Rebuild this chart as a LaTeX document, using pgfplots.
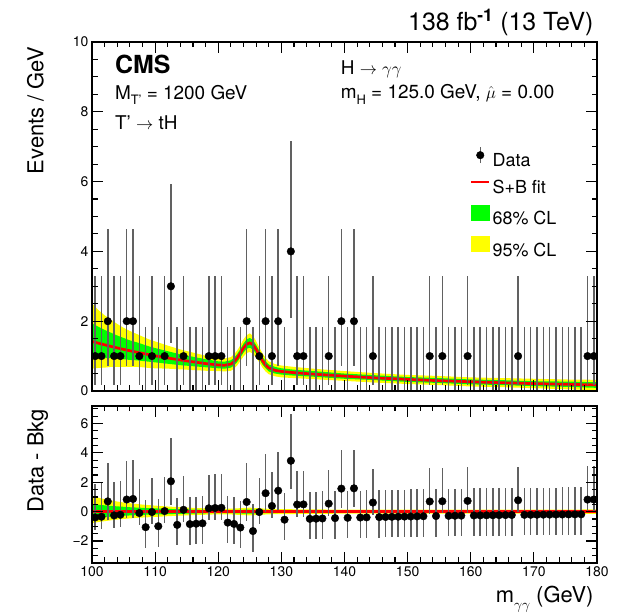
\documentclass[border=0pt]{standalone}
\usepackage{pgfplots}
\pgfplotsset{compat=1.18}
\usepackage{pgfplotstable}
\usepgfplotslibrary{fillbetween}
\usepackage{fontspec}
\setmainfont{TeX Gyre Heros}
\definecolor{rootgreen}{RGB}{0,255,0}
\definecolor{rootyellow}{RGB}{255,255,0}
\definecolor{rootred}{RGB}{255,0,0}

% background fit (events/GeV) and its 68%/95% bands
\pgfplotstableread{
m b yhi ylo ghi glo
100 1.420 2.50 0.64 1.94 0.95
101 1.371 2.32 0.66 1.84 0.95
102 1.323 2.17 0.67 1.75 0.94
103 1.277 2.04 0.69 1.67 0.94
104 1.234 1.92 0.69 1.59 0.92
105 1.192 1.81 0.69 1.52 0.91
106 1.153 1.72 0.69 1.45 0.89
107 1.115 1.64 0.69 1.40 0.88
108 1.078 1.56 0.68 1.34 0.86
109 1.043 1.48 0.66 1.28 0.84
110 1.009 1.42 0.65 1.23 0.82
112 0.946 1.30 0.64 1.14 0.78
114 0.888 1.19 0.62 1.05 0.74
116 0.835 1.10 0.60 0.98 0.71
118 0.785 1.01 0.58 0.91 0.68
120 0.745 0.94 0.57 0.85 0.65
121 0.738 0.93 0.56 0.84 0.64
122 0.772 0.97 0.58 0.88 0.67
122.5 0.837 1.05 0.64 0.95 0.73
123 0.944 1.16 0.73 1.06 0.83
123.5 1.084 1.31 0.86 1.20 0.96
124 1.230 1.48 0.99 1.36 1.10
124.5 1.342 1.60 1.09 1.48 1.21
125 1.379 1.65 1.12 1.52 1.24
125.5 1.324 1.58 1.07 1.46 1.19
126 1.194 1.43 0.96 1.32 1.07
126.5 1.029 1.25 0.82 1.15 0.92
127 0.871 1.08 0.67 0.98 0.76
127.5 0.745 0.95 0.56 0.86 0.65
128 0.662 0.85 0.48 0.76 0.56
129 0.591 0.77 0.42 0.69 0.50
130 0.560 0.73 0.39 0.65 0.47
132 0.526 0.69 0.37 0.61 0.44
135 0.485 0.64 0.34 0.57 0.41
140 0.426 0.57 0.29 0.50 0.35
145 0.375 0.51 0.24 0.45 0.31
150 0.333 0.46 0.20 0.40 0.26
155 0.296 0.43 0.17 0.37 0.23
160 0.264 0.39 0.13 0.33 0.19
165 0.236 0.37 0.11 0.31 0.17
170 0.212 0.35 0.08 0.28 0.14
175 0.192 0.33 0.05 0.27 0.12
180 0.173 0.32 0.02 0.25 0.09
}\bandup

% bands around zero for the residual panel
\pgfplotstableread{
m yp ym gp gm
100 1.08 -0.78 0.52 -0.47
101 0.95 -0.71 0.47 -0.42
102 0.85 -0.65 0.43 -0.38
103 0.76 -0.59 0.39 -0.34
104 0.69 -0.54 0.36 -0.31
105 0.62 -0.50 0.33 -0.28
106 0.57 -0.46 0.30 -0.26
108 0.48 -0.40 0.26 -0.22
110 0.41 -0.36 0.22 -0.19
112 0.35 -0.31 0.19 -0.17
114 0.30 -0.27 0.16 -0.15
116 0.26 -0.24 0.14 -0.13
118 0.22 -0.21 0.12 -0.11
120 0.19 -0.18 0.10 -0.10
122 0.20 -0.19 0.11 -0.10
124 0.25 -0.24 0.13 -0.13
125 0.27 -0.26 0.14 -0.14
126 0.24 -0.23 0.13 -0.12
128 0.19 -0.18 0.10 -0.10
130 0.17 -0.17 0.09 -0.09
135 0.15 -0.15 0.08 -0.08
140 0.14 -0.14 0.075 -0.075
150 0.13 -0.13 0.07 -0.07
160 0.13 -0.13 0.07 -0.07
170 0.135 -0.135 0.07 -0.07
180 0.15 -0.15 0.08 -0.08
}\bandres

% data, non-empty bins (events/GeV, Poisson interval)
\pgfplotstableread{
m n ep em
100.5 1 2.30 0.83
101.5 1 2.30 0.83
102.5 2 2.64 1.29
103.5 1 2.30 0.83
104.5 1 2.30 0.83
105.5 2 2.64 1.29
106.5 2 2.64 1.29
107.5 1 2.30 0.83
109.5 1 2.30 0.83
111.5 1 2.30 0.83
112.5 3 2.92 1.63
114.5 1 2.30 0.83
118.5 1 2.30 0.83
119.5 1 2.30 0.83
120.5 1 2.30 0.83
124.5 2 2.64 1.29
126.5 1 2.30 0.83
127.5 2 2.64 1.29
128.5 1 2.30 0.83
129.5 2 2.64 1.29
131.5 4 3.16 1.91
132.5 1 2.30 0.83
133.5 1 2.30 0.83
137.5 1 2.30 0.83
139.5 2 2.64 1.29
141.5 2 2.64 1.29
144.5 1 2.30 0.83
153.5 1 2.30 0.83
155.5 1 2.30 0.83
159.5 1 2.30 0.83
167.5 1 2.30 0.83
178.5 1 2.30 0.83
179.5 1 2.30 0.83
}\updata

% data, empty bins: upper edge of the interval
\pgfplotstableread{
m ep
108.5 1.84
110.5 1.84
113.5 1.84
115.5 1.84
116.5 1.84
117.5 1.84
121.5 1.84
122.5 1.84
123.5 1.84
125.5 1.84
130.5 1.84
134.5 1.84
135.5 1.84
136.5 1.84
138.5 1.84
140.5 1.84
142.5 1.84
143.5 1.84
145.5 1.84
146.5 1.84
147.5 1.84
148.5 1.84
149.5 1.84
150.5 1.84
151.5 1.84
152.5 1.84
154.5 1.84
156.5 1.84
157.5 1.84
158.5 1.84
160.5 1.84
161.5 1.84
162.5 1.84
163.5 1.84
164.5 1.84
165.5 1.84
166.5 1.84
168.5 1.84
169.5 1.84
170.5 1.84
171.5 1.84
172.5 1.84
173.5 1.84
174.5 1.84
175.5 1.84
176.5 1.84
177.5 1.84
}\upzero

% data - background
\pgfplotstableread{
m r ep em
100.5 -0.395 2.30 0.83
101.5 -0.347 2.30 0.83
102.5 0.700 2.64 1.29
103.5 -0.256 2.30 0.83
104.5 -0.213 2.30 0.83
105.5 0.828 2.64 1.29
106.5 0.866 2.64 1.29
107.5 -0.096 2.30 0.83
108.5 -1.060 1.84 1.40
109.5 -0.026 2.30 0.83
110.5 -0.993 1.84 1.40
111.5 0.039 2.30 0.83
112.5 2.069 2.92 1.63
113.5 -0.902 1.84 1.40
114.5 0.125 2.30 0.83
115.5 -0.848 1.84 1.40
116.5 -0.822 1.84 1.40
117.5 -0.797 1.84 1.40
118.5 0.227 2.30 0.83
119.5 0.247 2.30 0.83
120.5 0.262 2.30 0.83
121.5 -0.747 1.84 1.40
122.5 -0.837 1.84 1.40
123.5 -1.084 1.84 1.40
124.5 0.658 2.64 1.29
125.5 -1.324 1.84 1.40
126.5 -0.029 2.30 0.83
127.5 1.255 2.64 1.29
128.5 0.386 2.30 0.83
129.5 1.427 2.64 1.29
130.5 -0.548 1.84 1.40
131.5 3.467 3.16 1.91
132.5 0.482 2.30 0.83
133.5 0.495 2.30 0.83
134.5 -0.491 1.84 1.40
135.5 -0.479 1.84 1.40
136.5 -0.466 1.84 1.40
137.5 0.546 2.30 0.83
138.5 -0.442 1.84 1.40
139.5 1.569 2.64 1.29
140.5 -0.420 1.84 1.40
141.5 1.590 2.64 1.29
142.5 -0.400 1.84 1.40
143.5 -0.390 1.84 1.40
144.5 0.620 2.30 0.83
145.5 -0.371 1.84 1.40
146.5 -0.362 1.84 1.40
147.5 -0.353 1.84 1.40
148.5 -0.345 1.84 1.40
149.5 -0.337 1.84 1.40
150.5 -0.329 1.84 1.40
151.5 -0.321 1.84 1.40
152.5 -0.313 1.84 1.40
153.5 0.694 2.30 0.83
154.5 -0.299 1.84 1.40
155.5 0.708 2.30 0.83
156.5 -0.286 1.84 1.40
157.5 -0.279 1.84 1.40
158.5 -0.273 1.84 1.40
159.5 0.733 2.30 0.83
160.5 -0.261 1.84 1.40
161.5 -0.255 1.84 1.40
162.5 -0.250 1.84 1.40
163.5 -0.244 1.84 1.40
164.5 -0.239 1.84 1.40
165.5 -0.234 1.84 1.40
166.5 -0.229 1.84 1.40
167.5 0.776 2.30 0.83
168.5 -0.219 1.84 1.40
169.5 -0.215 1.84 1.40
170.5 -0.210 1.84 1.40
171.5 -0.206 1.84 1.40
172.5 -0.202 1.84 1.40
173.5 -0.198 1.84 1.40
174.5 -0.194 1.84 1.40
175.5 -0.190 1.84 1.40
176.5 -0.186 1.84 1.40
177.5 -0.182 1.84 1.40
178.5 0.822 2.30 0.83
179.5 0.825 2.30 0.83
}\resdata

\pgfplotsset{
  cmsaxis/.style={
    scale only axis, width=505bp,
    xmin=100, xmax=180,
    axis line style={line width=1.4bp},
    axis on top,
    tick align=inside,
    major tick length=11bp, minor tick length=5.5bp,
    every tick/.style={black, line width=1.1bp},
    xtick={100,110,...,180},
    minor xtick={100,102,...,180},
    tick label style={font=\fontsize{14}{16}\selectfont},
    /pgf/number format/assume math mode=true,
  },
}

\begin{document}
\begin{tikzpicture}[x=1bp,y=1bp]
\path (0,0) rectangle (624,616);

% ---------------- upper panel ----------------
\begin{axis}[cmsaxis,
  at={(92bp,225bp)}, anchor=south west, height=349bp,
  ymin=0, ymax=10, ytick={0,2,...,10}, minor ytick={0,0.5,...,10},
  xticklabels={},
  legend style={at={(0.742,0.707)}, anchor=north west, draw=none, fill=none,
    font=\fontsize{18}{20}\selectfont, row sep=8bp},
  legend cell align=left,
]
\addplot[name path=yhi, draw=none, forget plot] table[x=m,y=yhi]{\bandup};
\addplot[name path=ylo, draw=none, forget plot] table[x=m,y=ylo]{\bandup};
\addplot[fill=rootyellow, draw=none, forget plot] fill between[of=yhi and ylo];
\addplot[name path=ghi, draw=none, forget plot] table[x=m,y=ghi]{\bandup};
\addplot[name path=glo, draw=none, forget plot] table[x=m,y=glo]{\bandup};
\addplot[fill=rootgreen, draw=none, forget plot] fill between[of=ghi and glo];
\addplot[rootred, line width=2.7bp, forget plot] table[x=m,y=b]{\bandup};
\addplot[ycomb, black!62, line width=1.5bp, forget plot]
  table[x=m, y=ep]{\upzero};
\addplot[only marks, mark=*, mark size=3.8bp, black, forget plot,
  error bars/.cd, y dir=both, y explicit, error mark=none,
  error bar style={black!62, line width=1.5bp}]
  table[x=m, y=n, y error plus=ep, y error minus=em]{\updata};

\addlegendimage{legend image code/.code={
  \draw[black!62, line width=1.5bp] (9bp,-2bp)--(9bp,14bp);
  \fill[black] (9bp,6bp) circle (3.8bp);}}
\addlegendimage{legend image code/.code={
  \draw[rootred, line width=2.7bp] (0bp,6bp)--(18bp,6bp);}}
\addlegendimage{legend image code/.code={
  \fill[rootgreen] (0bp,-1.5bp) rectangle (18bp,13.5bp);}}
\addlegendimage{legend image code/.code={
  \fill[rootyellow] (0bp,-1.5bp) rectangle (18bp,13.5bp);}}
\legend{Data, S+B fit, 68\% CL, 95\% CL}
\end{axis}

% ---------------- lower panel ----------------
\begin{axis}[cmsaxis,
  at={(92bp,53bp)}, anchor=south west, height=157bp,
  ymin=-3.5, ymax=7.2, ytick={-2,0,2,4,6}, yticklabels={−2,0,2,4,6},
  minor ytick={-3.5,-3,...,7},
]
\addplot[name path=ryhi, draw=none] table[x=m,y=yp]{\bandres};
\addplot[name path=rylo, draw=none] table[x=m,y=ym]{\bandres};
\addplot[fill=rootyellow, draw=none] fill between[of=ryhi and rylo];
\addplot[name path=rghi, draw=none] table[x=m,y=gp]{\bandres};
\addplot[name path=rglo, draw=none] table[x=m,y=gm]{\bandres};
\addplot[fill=rootgreen, draw=none] fill between[of=rghi and rglo];
\addplot[rootred, line width=2.7bp] coordinates {(100,0) (180,0)};
\addplot[only marks, mark=*, mark size=3.8bp, black,
  error bars/.cd, y dir=both, y explicit, error mark=none,
  error bar style={black!62, line width=1.5bp}]
  table[x=m, y=r, y error plus=ep, y error minus=em]{\resdata};
\end{axis}

% ---------------- text ----------------
\node[anchor=base east, font=\fontsize{25}{28}\selectfont] at (597,585)
  {138 fb\textsuperscript{\textbf{-1}} (13 TeV)};
\node[anchor=base west, font=\fontsize{25}{28}\selectfont\bfseries] at (111.5,542.7) {CMS};
\node[anchor=base west, font=\fontsize{19}{22}\selectfont] at (111.5,516.7)
  {M\raisebox{-0.3em}{\fontsize{13}{13}\selectfont T'} = 1200 GeV};
\node[anchor=base west, font=\fontsize{19}{22}\selectfont] at (111.5,486.7)
  {T' $\rightarrow$ tH};
\node[anchor=base west, font=\fontsize{19}{22}\selectfont, inner ysep=0pt] at (337.3,541)
  {H $\rightarrow$ $\gamma\gamma$};
\node[anchor=base west, font=\fontsize{19}{22}\selectfont, inner ysep=0pt] at (337.3,517)
  {m\raisebox{-0.3em}{\fontsize{13}{13}\selectfont H} = 125.0 GeV, $\hat{\mu}$ = 0.00};
\node[anchor=base east, rotate=90, font=\fontsize{22}{24}\selectfont] at (43.3,573)
  {Events / GeV};
\node[anchor=base east, rotate=90, font=\fontsize{22}{24}\selectfont] at (43.3,210)
  {Data - Bkg};
\node[anchor=base east, font=\fontsize{22}{24}\selectfont] at (597,13)
  {m\raisebox{-0.3em}{\fontsize{15}{15}\selectfont $\gamma\gamma$}\ (GeV)};
\end{tikzpicture}
\end{document}
